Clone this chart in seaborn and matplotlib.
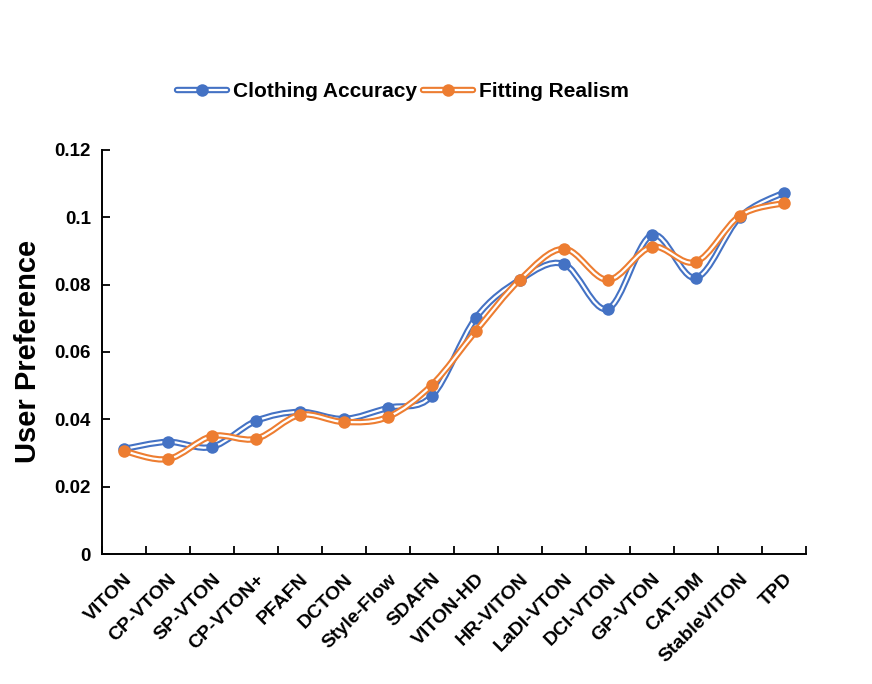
import numpy as np
import pandas as pd
import matplotlib
matplotlib.use("Agg")
import matplotlib.pyplot as plt
import matplotlib.patheffects as pe
from matplotlib.path import Path
from matplotlib.patches import PathPatch
from matplotlib.lines import Line2D
import seaborn as sns

methods = ["VITON", "CP-VTON", "SP-VTON", "CP-VTON+", "PFAFN", "DCTON", "Style-Flow",
           "SDAFN", "VITON-HD", "HR-VITON", "LaDI-VTON", "DCI-VTON", "GP-VTON",
           "CAT-DM", "StableVITON", "TPD"]
clothing_accuracy = [0.0312, 0.0333, 0.0318, 0.0395, 0.0422, 0.0401, 0.0434, 0.0469,
                     0.0701, 0.0814, 0.0861, 0.0728, 0.0947, 0.0820, 0.1000, 0.1073]
fitting_realism = [0.0306, 0.0282, 0.0350, 0.0342, 0.0413, 0.0392, 0.0407, 0.0502,
                   0.0662, 0.0814, 0.0906, 0.0814, 0.0912, 0.0867, 0.1004, 0.1042]

BLUE = "#4472C4"
ORANGE = "#ED7D31"

sns.set_theme(style="white")
plt.rcParams["font.family"] = ["Liberation Sans", "DejaVu Sans"]
plt.rcParams["font.weight"] = "bold"
for k in ["text.color", "axes.labelcolor", "xtick.color", "ytick.color"]:
    plt.rcParams[k] = "black"

fig = plt.figure(figsize=(8.72, 6.84), dpi=100)
ax = fig.add_axes([0.117, 0.19, 0.807, 0.591])

x = np.arange(len(methods))


def smooth_path(xs, ys):
    # bezier through the points, like Excel's "smoothed line"
    pts = np.column_stack([xs, ys])
    n = len(pts)
    verts = [pts[0]]
    codes = [Path.MOVETO]
    for i in range(n - 1):
        p0 = pts[max(i - 1, 0)]
        p1 = pts[i]
        p2 = pts[i + 1]
        p3 = pts[min(i + 2, n - 1)]
        c1 = p1 + (p2 - p0) / 6.0
        c2 = p2 - (p3 - p1) / 6.0
        verts += [c1, c2, p2]
        codes += [Path.CURVE4] * 3
    return Path(verts, codes)


OUTER = 4.6
INNER = 1.6
MS = 9


def double(c):
    return [pe.Stroke(linewidth=OUTER, foreground=c), pe.Normal()]


z = 2
for vals, color in [(clothing_accuracy, BLUE), (fitting_realism, ORANGE)]:
    patch = PathPatch(smooth_path(x, vals), facecolor="none", edgecolor="white",
                      linewidth=INNER, zorder=z, path_effects=double(color))
    ax.add_patch(patch)
    df = pd.DataFrame({"Method": methods, "value": vals})
    sns.lineplot(data=df, x="Method", y="value", marker="o", markersize=MS,
                 linestyle="", color=color, markeredgecolor=color,
                 markeredgewidth=0, ax=ax, zorder=z + 1, sort=False)
    z += 2

ax.set_xlim(-0.5, len(methods) - 0.5)
ax.set_ylim(0, 0.12)
ax.set_yticks([0, 0.02, 0.04, 0.06, 0.08, 0.1, 0.12])
ax.set_yticklabels(["0", "0.02", "0.04", "0.06", "0.08", "0.1", "0.12"])
ax.set_xticks(x)
ax.set_xticklabels(methods, rotation=45, ha="right", rotation_mode="anchor")
ax.set_xticks(np.arange(-0.5, len(methods), 1.0), minor=True)
ax.tick_params(axis="x", which="major", length=0, pad=12, labelsize=14)
ax.tick_params(axis="x", which="minor", direction="in", length=6, width=1.3,
               color="black", bottom=True)
ax.tick_params(axis="y", direction="in", length=6, width=1.3, color="black",
               left=True, labelsize=13.5, pad=8)
for lbl in ax.get_xticklabels() + ax.get_yticklabels():
    lbl.set_fontweight("bold")

for s in ["top", "right"]:
    ax.spines[s].set_visible(False)
for s in ["left", "bottom"]:
    ax.spines[s].set_color("black")
    ax.spines[s].set_linewidth(1.4)

ax.set_xlabel("")
ax.set_ylabel("User Preference", fontsize=21, fontweight="bold", labelpad=9)

handles = []
for c in (BLUE, ORANGE):
    ln = Line2D([], [], color="white", linewidth=INNER, path_effects=double(c))
    mk = Line2D([], [], linestyle="", marker="o", markersize=MS,
                markerfacecolor=c, markeredgewidth=0)
    handles.append((ln, mk))
fig.legend(handles, ["Clothing Accuracy", "Fitting Realism"], loc="center",
           bbox_to_anchor=(0.462, 0.866), ncol=2, frameon=False, handlelength=2.4,
           handletextpad=0.3, columnspacing=0.3, prop={"size": 15, "weight": "bold"})

fig.savefig("out.png", dpi=100)
